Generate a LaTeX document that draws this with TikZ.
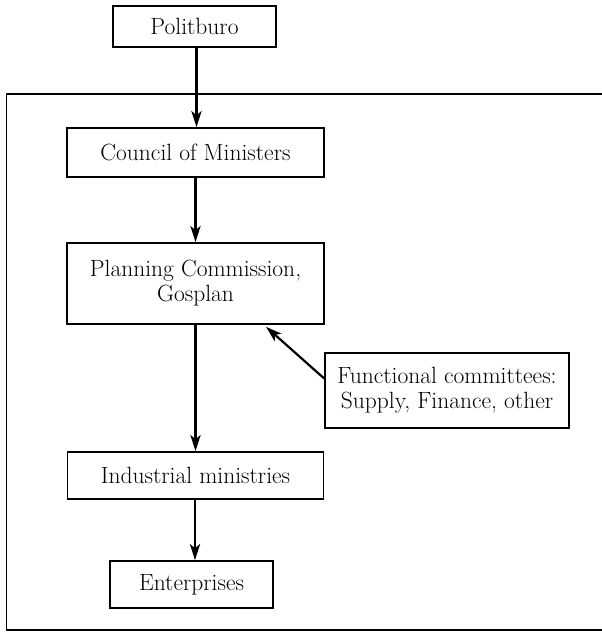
\documentclass[tikz,border=0pt]{standalone}
\usetikzlibrary{arrows.meta}
\begin{document}
\begin{tikzpicture}[x=1pt,y=-1pt,
  box/.style={draw,line width=1.6pt,inner sep=0pt,align=center,
    font=\fontsize{23.5}{25}\selectfont},
  conn/.style={line width=2.8pt,-{Stealth[length=16pt,width=10pt,inset=4pt]}},
  frame/.style={line width=1.8pt}]
\useasboundingbox (0,0) rectangle (602,641);
\node[box,minimum width=163pt,minimum height=41pt] (pol) at (194.5,26.5) {Politburo};
\node[box,minimum width=257pt,minimum height=49pt] (cou) at (195.5,152.5) {Council of Ministers};
\node[box,minimum width=257pt,minimum height=81pt] (pla) at (195.5,283.5) {Planning Commission,\\Gosplan};
\node[box,minimum width=244pt,minimum height=75pt] (fun) at (447,390.5) {Functional committees:\\Supply, Finance, other};
\node[box,minimum width=256pt,minimum height=47pt] (ind) at (195.5,475.5) {Industrial ministries};
\node[box,minimum width=163pt,minimum height=47pt] (ent) at (191.5,584.5) {Enterprises};
\coordinate (ftr) at (602,94);
\coordinate (fbr) at (602,630);
\draw[frame] (ftr) -| (6.5,630) -- (fbr);
\coordinate (a1) at (196.5,47);
\draw[conn] (a1) -- (a1 |- cou.north);
\draw[conn] (cou.south) -- (pla.north);
\draw[conn] (pla.south) -- (ind.north);
\coordinate (a4) at (195,499);
\draw[conn] (a4) -- (a4 |- ent.north);
\coordinate (dstart) at ([yshift=12pt]fun.west);
\coordinate (dend) at ([xshift=70.5pt,yshift=-2pt]pla.south);
\draw[conn,line width=2.2pt] (dstart) -- (dend);
\end{tikzpicture}
\end{document}
